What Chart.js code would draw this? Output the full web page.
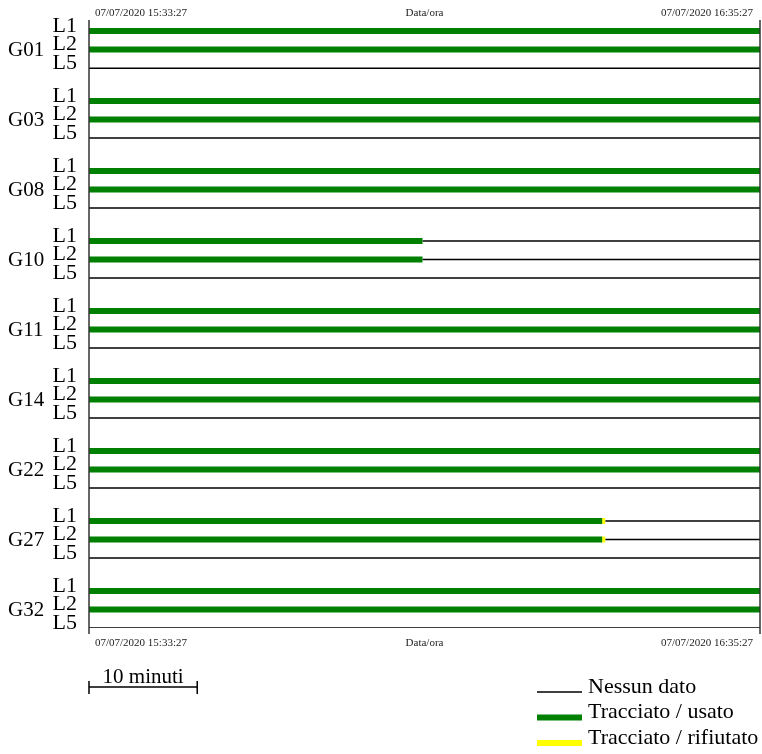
<!DOCTYPE html>
<html>
<head>
<meta charset="utf-8">
<script src="https://cdn.jsdelivr.net/npm/chart.js@4"></script>
<style>
html,body{margin:0;padding:0;background:#fff;}
canvas{display:block;}
</style>
</head>
<body>
<canvas id="c" width="762" height="754"></canvas>
<script>
// dati
const giorno = '07/07/2020';
const inizio = '15:33:27';
const fine = '16:35:27';
const gruppi = ['G01','G03','G08','G10','G11','G14','G22','G27','G32'];
const canali = ['L1','L2','L5'];
const canaliConDati = ['L1','L2'];           // L5 sempre "Nessun dato"
const fineUsato = ['16:35:27','16:35:27','16:35:27','16:04:16','16:35:27','16:35:27','16:35:27','16:20:52','16:35:27'];
const fineRifiutato = [null,null,null,null,null,null,null,'16:21:09',null];
const legendaVoci = ['Nessun dato','Tracciato / usato','Tracciato / rifiutato'];
const scalaMinuti = 10;

const COL = { nessuno:'#000000', usato:'#008000', rifiutato:'#ffff00' };
const SPESSORE = { nessuno:1.5, usato:6, rifiutato:6 };
const PASSO_GRUPPO = 3.78; // distanza fra gruppi in unita' di riga

function sec(t){ const p=t.split(':').map(Number); return p[0]*3600+p[1]*60+p[2]; }
function minuti(t){ return (sec(t)-sec(inizio))/60; }
function rigaY(g,c){ return g*PASSO_GRUPPO + c; }

const datasets = [];
function segmento(tipo, a, b, y){
  datasets.push({
    data:[{x:minuti(a),y:y},{x:minuti(b),y:y}],
    borderColor:COL[tipo], borderWidth:SPESSORE[tipo], borderCapStyle:'butt',
    pointRadius:0, showLine:true, fill:false
  });
}
gruppi.forEach(function(g,gi){
  canali.forEach(function(c,ci){
    const y = rigaY(gi,ci);
    if(canaliConDati.indexOf(c) < 0){ segmento('nessuno', inizio, fine, y); return; }
    let t = inizio;
    segmento('usato', t, fineUsato[gi], y); t = fineUsato[gi];
    if(fineRifiutato[gi]){ segmento('rifiutato', t, fineRifiutato[gi], y); t = fineRifiutato[gi]; }
    if(sec(t) < sec(fine)) segmento('nessuno', t, fine, y);
  });
});
const yMax = rigaY(gruppi.length-1, canali.length-1);

const SERIF = '"Liberation Serif","DejaVu Serif",serif';

const disegnaTesti = {
  id:'testi',
  afterDraw(chart){
    const ctx = chart.ctx, xs = chart.scales.x, ys = chart.scales.y, a = chart.chartArea;
    ctx.save();
    // assi verticali
    ctx.strokeStyle = '#333'; ctx.lineWidth = 1.5;
    [a.left, a.right].forEach(function(x){
      ctx.beginPath(); ctx.moveTo(x, a.top); ctx.lineTo(x, a.bottom+6); ctx.stroke();
    });
    // etichette data/ora
    ctx.fillStyle = '#222'; ctx.font = '11px '+SERIF; ctx.textBaseline = 'middle';
    [a.top-7, a.bottom+15].forEach(function(y){
      ctx.textAlign = 'left'; ctx.fillText(giorno+' '+inizio, a.left+6, y);
      ctx.textAlign = 'center'; ctx.fillText('Data/ora', (a.left+a.right)/2, y);
      ctx.textAlign = 'right'; ctx.fillText(giorno+' '+fine, a.right-7, y);
    });
    // etichette righe e gruppi
    ctx.fillStyle = '#000';
    gruppi.forEach(function(g,gi){
      canali.forEach(function(c,ci){
        ctx.font = '22px '+SERIF; ctx.textAlign = 'right';
        ctx.fillText(c, 77, ys.getPixelForValue(rigaY(gi,ci)) - 5);
      });
      ctx.font = '21px '+SERIF; ctx.textAlign = 'left';
      ctx.fillText(g, 8, ys.getPixelForValue(rigaY(gi,1)) + 1);
    });
    // barra di scala
    const x0 = xs.getPixelForValue(0), x1 = xs.getPixelForValue(scalaMinuti), yb = 687;
    ctx.strokeStyle = '#000'; ctx.lineWidth = 1.5;
    ctx.beginPath();
    ctx.moveTo(x0, yb); ctx.lineTo(x1, yb);
    ctx.moveTo(x0, yb-6); ctx.lineTo(x0, yb+7);
    ctx.moveTo(x1, yb-6); ctx.lineTo(x1, yb+7);
    ctx.stroke();
    ctx.font = '21px '+SERIF; ctx.textAlign = 'center';
    ctx.fillText(scalaMinuti+' minuti', (x0+x1)/2, yb-10);
    // legenda
    const tipi = ['nessuno','usato','rifiutato'];
    legendaVoci.forEach(function(t,i){
      const yl = 692 + i*25.5;
      ctx.strokeStyle = COL[tipi[i]]; ctx.lineWidth = SPESSORE[tipi[i]];
      ctx.beginPath(); ctx.moveTo(537, yl); ctx.lineTo(582, yl); ctx.stroke();
      ctx.fillStyle = '#000'; ctx.font = '22px '+SERIF; ctx.textAlign = 'left';
      ctx.fillText(t, 588, yl - 5);
    });
    ctx.restore();
  }
};

new Chart(document.getElementById('c'), {
  type:'scatter',
  data:{ datasets: datasets },
  options:{
    responsive:false, animation:false, devicePixelRatio:1,
    layout:{ padding:{ left:89, right:2, top:20, bottom:126 } },
    plugins:{ legend:{display:false}, tooltip:{enabled:false} },
    scales:{
      x:{ type:'linear', display:false, min:0, max:minuti(fine) },
      y:{ type:'linear', display:false, reverse:true, min:-0.6, max:yMax }
    }
  },
  plugins:[disegnaTesti]
});
</script>
</body>
</html>
